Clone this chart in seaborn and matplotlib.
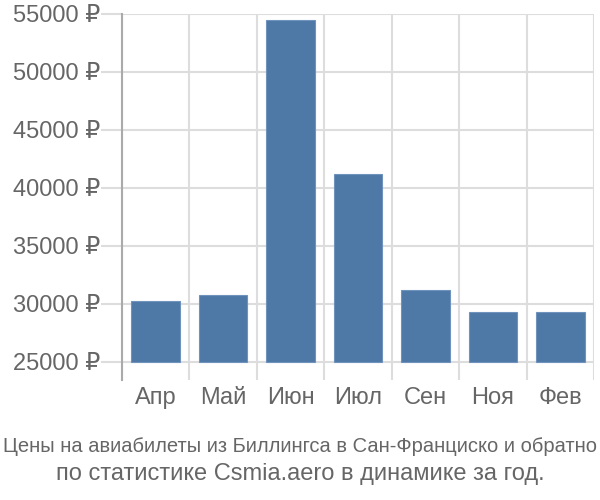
import matplotlib
matplotlib.use("Agg")
import matplotlib.pyplot as plt
import seaborn as sns
import numpy as np
import pandas as pd
from matplotlib import font_manager

months = ["Апр", "Май", "Июн", "Июл", "Сен", "Ноя", "Фев"]
prices = [30240, 30730, 54510, 41190, 31160, 29310, 29310]
y_ticks = [25000, 30000, 35000, 40000, 45000, 50000, 55000]
y_tick_labels = [f"{v} ₽" for v in y_ticks]
title_line1 = "Цены на авиабилеты из Биллингса в Сан-Франциско и обратно"
title_line2 = "по статистике Csmia.aero в динамике за год."

base = 25000
df = pd.DataFrame({"month": months, "height": [p - base for p in prices]})

sns.set_theme(style="white")
plt.rcParams["font.family"] = ["Liberation Sans", "DejaVu Sans"]

names = {f.name for f in font_manager.fontManager.ttflist}
narrow = "Liberation Sans Narrow" if "Liberation Sans Narrow" in names else "Liberation Sans"

fig = plt.figure(figsize=(6, 5), dpi=100)
ax = fig.add_axes([122 / 600, 1 - 380 / 500, (594 - 122) / 600, (380 - 14) / 500])

sns.barplot(data=df, x="month", y="height", ax=ax, color="#4e78a6", saturation=1,
            width=0.72, bottom=base, edgecolor="#6f93bd", linewidth=0.8, zorder=3)

ax.set_xlim(-0.5, 6.5)
ax.set_ylim(23420, 55000)
ax.set_yticks(y_ticks)
ax.set_yticklabels(y_tick_labels)
ax.set_xticks(range(len(months)))
ax.set_xticklabels(months)
ax.set_xticks(np.arange(-0.5, 7, 1), minor=True)
ax.set_xlabel("")
ax.set_ylabel("")

ax.grid(False)
ax.yaxis.grid(True, color="#dddddd", linewidth=1.5, zorder=0)
ax.xaxis.grid(True, which="minor", color="#dddddd", linewidth=1.5, zorder=0)
for s in ["top", "right", "bottom"]:
    ax.spines[s].set_visible(False)
ax.spines["left"].set_color("#aaaaaa")
ax.spines["left"].set_linewidth(1.5)
ax.spines["left"].set_zorder(4)

ax.tick_params(axis="y", which="major", length=15, width=1.5, color="#dddddd",
               labelsize=17, labelcolor="#666666", pad=1, left=True)
ax.tick_params(axis="x", which="major", length=0, labelsize=17, labelcolor="#666666", pad=5)
ax.tick_params(axis="x", which="minor", length=0)

fig.text(0.5, 1 - 447 / 500, title_line1, ha="center", va="center", fontsize=14.5,
         color="#666666", family=[narrow, "DejaVu Sans"])
fig.text(0.5, 1 - 474 / 500, title_line2, ha="center", va="center", fontsize=17,
         color="#666666")

fig.savefig("out.png", dpi=100)
